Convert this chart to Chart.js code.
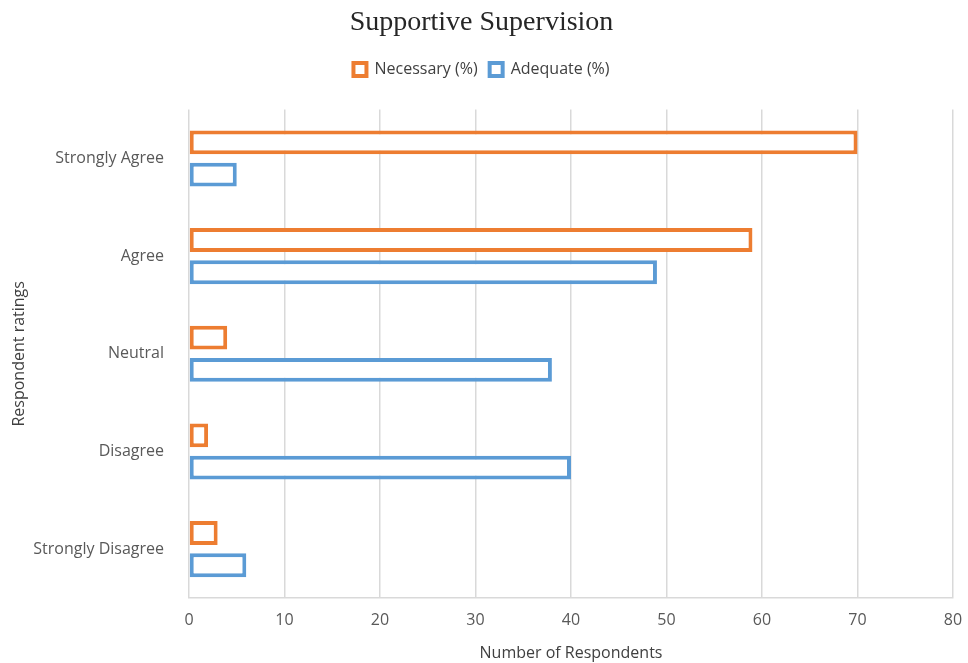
<!DOCTYPE html>
<html>
<head>
<meta charset="utf-8">
<script src="https://cdn.jsdelivr.net/npm/chart.js@4"></script>
<style>
  html, body { margin: 0; padding: 0; background: #fff; }
  #wrap { width: 968px; height: 663px; }
</style>
</head>
<body>
<div id="wrap"><canvas id="chart"></canvas></div>
<script>
    const categories = ['Strongly Agree', 'Agree', 'Neutral', 'Disagree', 'Strongly Disagree'];
    const necessary = [70, 59, 4, 2, 3];
    const adequate = [5, 49, 38, 40, 6];
    const xTicks = [0, 10, 20, 30, 40, 50, 60, 70, 80];

    // push the plot area down below the legend, like the original
    const legendGap = {
        id: 'legendGap',
        beforeInit: function(chart) {
            const orig = chart.legend.fit;
            chart.legend.fit = function() {
                orig.call(this);
                this.height += 22;
            };
        }
    };

    const ctx = document.getElementById('chart').getContext('2d');
    const chart = new Chart(ctx, {
        type: 'bar',
        data: {
            labels: categories,
            datasets: [{
                label: 'Necessary (%)',
                data: necessary,
                backgroundColor: '#ffffff',
                borderColor: '#ED7D31',
                borderWidth: 4,
                borderSkipped: false
            }, {
                label: 'Adequate (%)',
                data: adequate,
                backgroundColor: '#ffffff',
                borderColor: '#5B9BD5',
                borderWidth: 4,
                borderSkipped: false
            }]
        },
        plugins: [legendGap],
        options: {
            indexAxis: 'y',
            responsive: true,
            maintainAspectRatio: false,
            animation: false,
            datasets: {
                bar: {
                    categoryPercentage: 0.66,
                    barPercentage: 0.74
                }
            },
            layout: {
                padding: { left: 10, right: 15, top: 6, bottom: 0 }
            },
            plugins: {
                title: {
                    display: true,
                    text: 'Supportive Supervision',
                    color: '#262626',
                    font: { family: '"Liberation Serif", "DejaVu Serif", serif', size: 28, weight: 'normal' },
                    padding: { top: 0, bottom: 10 }
                },
                legend: {
                    position: 'top',
                    labels: {
                        color: '#404040',
                        font: { family: '"Open Sans", sans-serif', size: 16 },
                        boxWidth: 13,
                        boxHeight: 13,
                        padding: 12
                    }
                },
                tooltip: { enabled: false }
            },
            scales: {
                x: {
                    min: 0,
                    max: 80,
                    afterBuildTicks: function(scale) {
                        scale.ticks = xTicks.map(v => ({ value: v }));
                    },
                    afterFit: function(scale) {
                        scale.height = 65;
                        scale.paddingRight = 0;
                    },
                    grid: { color: '#d9d9d9', lineWidth: 1.5, drawTicks: false },
                    border: { color: '#d9d9d9', width: 1.5 },
                    ticks: {
                        color: '#595959',
                        font: { family: '"Open Sans", sans-serif', size: 16 },
                        padding: 13
                    },
                    title: {
                        display: true,
                        text: 'Number of Respondents',
                        color: '#404040',
                        font: { family: '"Open Sans", sans-serif', size: 16 },
                        padding: { top: 2, bottom: 0 }
                    }
                },
                y: {
                    afterFit: function(scale) {
                        scale.width = 179;
                    },
                    grid: { display: false },
                    border: { display: false },
                    ticks: {
                        color: '#595959',
                        font: { family: '"Open Sans", sans-serif', size: 16 },
                        padding: 17
                    },
                    title: {
                        display: true,
                        text: 'Respondent ratings',
                        color: '#404040',
                        font: { family: '"Open Sans", sans-serif', size: 16 },
                        padding: { top: 0, bottom: 0 }
                    }
                }
            }
        }
    });
</script>
</body>
</html>
